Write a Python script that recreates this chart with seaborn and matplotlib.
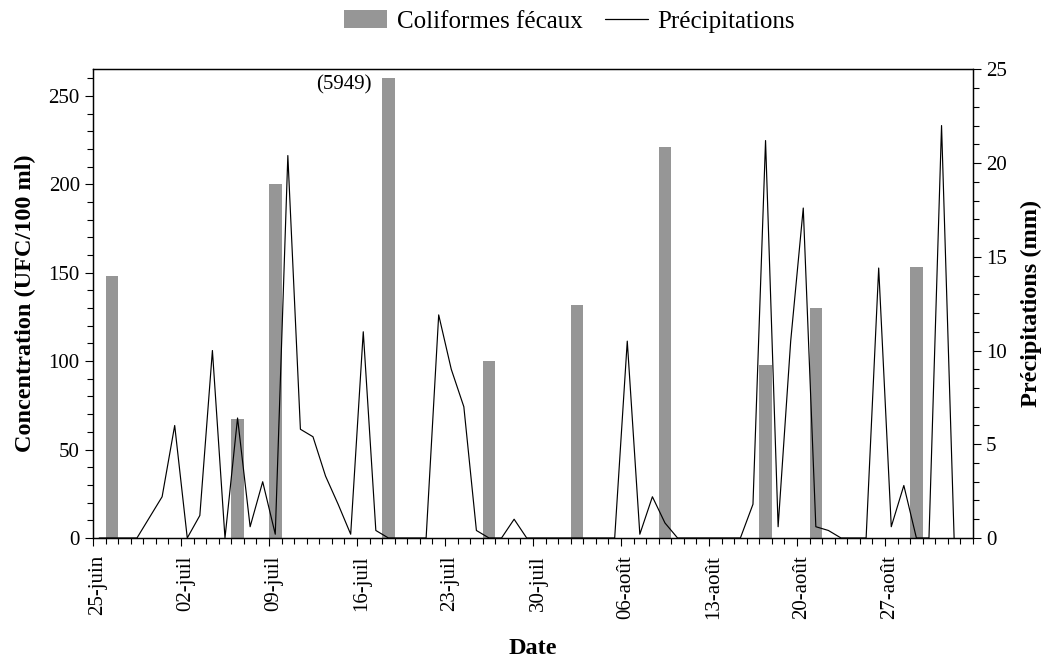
import numpy as np
import pandas as pd
import matplotlib
matplotlib.use("Agg")
import matplotlib.pyplot as plt
import matplotlib.patches as mpatches
import matplotlib.transforms as mtransforms
from matplotlib.lines import Line2D
from matplotlib.ticker import MultipleLocator
import seaborn as sns

# ── Données ───────────────────────────────────────────────────────────────────
START = pd.Timestamp("2000-06-25")
N_DAYS = 70  # 25 juin -> 3 septembre

# Coliformes fécaux (UFC/100 ml), une valeur par date d'échantillonnage
BAR_DATES = ["06-26", "07-06", "07-09", "07-18", "07-26",
             "08-02", "08-09", "08-17", "08-21", "08-29"]
COLIFORMES = [148, 67, 200, 260, 100, 132, 221, 98, 130, 153]

# valeur hors échelle (barre tronquée)
OFFSCALE_DATE = "07-18"
OFFSCALE_LABEL = "(5949)"

# Précipitations journalières (mm), du 25 juin au 2 septembre
PRECIP = [0, 0, 0, 0, 1.1, 2.2, 6.0, 0, 1.2, 10.0,
          0, 6.4, 0.6, 3.0, 0.2, 20.4, 5.8, 5.4, 3.3, 1.8,
          0.2, 11.0, 0.4, 0, 0, 0, 0, 11.9, 9.0, 7.0,
          0.4, 0, 0, 1.0, 0, 0, 0, 0, 0, 0,
          0, 0, 10.5, 0.2, 2.2, 0.8, 0, 0, 0, 0,
          0, 0, 1.8, 21.2, 0.6, 10.5, 17.6, 0.6, 0.4, 0,
          0, 0, 14.4, 0.6, 2.8, 0, 0, 22.0, 0]

TICK_LABELS = ["25-juin", "02-juil", "09-juil", "16-juil", "23-juil",
               "30-juil", "06-août", "13-août", "20-août", "27-août"]

BAR_COLOR = "#969696"


def day_pos(mmdd):
    """Position (en jours depuis le 25 juin) au milieu de la journée."""
    d = pd.Timestamp(f"2000-{mmdd}")
    return (d - START).days + 0.5


# ── Style ─────────────────────────────────────────────────────────────────────
sns.set_theme(style="ticks")
plt.rcParams["font.family"] = ["Liberation Serif", "DejaVu Serif"]
plt.rcParams["axes.edgecolor"] = "black"
plt.rcParams["axes.linewidth"] = 0.9
for key in ("text.color", "axes.labelcolor", "xtick.color", "ytick.color"):
    plt.rcParams[key] = "black"

fig, ax = plt.subplots(figsize=(10.53, 6.64), dpi=100)
fig.subplots_adjust(left=0.0883, right=0.924, bottom=0.1898, top=0.8956)

# ── Barres : coliformes ───────────────────────────────────────────────────────
bar_df = pd.DataFrame({"x": [day_pos(d) for d in BAR_DATES], "y": COLIFORMES})
native_step = np.diff(np.sort(bar_df["x"].values)).min()
sns.barplot(data=bar_df, x="x", y="y", native_scale=True, width=1.0 / native_step,
            color=BAR_COLOR, saturation=1, errorbar=None, linewidth=0, ax=ax)

ax.text(day_pos(OFFSCALE_DATE) - 1.3, 256, OFFSCALE_LABEL,
        ha="right", va="center", fontsize=15)

# ── Ligne : précipitations (axe droit) ────────────────────────────────────────
ax2 = ax.twinx()
precip_df = pd.DataFrame({"x": np.arange(len(PRECIP)) + 0.5, "mm": PRECIP})
sns.lineplot(data=precip_df, x="x", y="mm", color="black", linewidth=0.85, ax=ax2)

# ── Axes ──────────────────────────────────────────────────────────────────────
ax.set_xlim(0, N_DAYS)
ax.set_ylim(0, 265)
ax2.set_ylim(0, 25)

ax.set_xticks(np.arange(0, 7 * len(TICK_LABELS), 7))
ax.set_xticklabels(TICK_LABELS, rotation=90)
ax.xaxis.set_minor_locator(MultipleLocator(1))
ax.yaxis.set_major_locator(MultipleLocator(50))
ax.yaxis.set_minor_locator(MultipleLocator(10))
ax2.yaxis.set_major_locator(MultipleLocator(5))
ax2.yaxis.set_minor_locator(MultipleLocator(1))

for a in (ax, ax2):
    a.tick_params(which="major", direction="out", length=6, width=0.8,
                  labelsize=15, color="black")
    a.tick_params(which="minor", direction="out", length=4.5, width=0.8,
                  color="black")

# les étiquettes de dates sont légèrement décalées à droite des graduations
shift = mtransforms.ScaledTranslation(5 / 100, -4 / 100, fig.dpi_scale_trans)
for lbl in ax.get_xticklabels():
    lbl.set_transform(lbl.get_transform() + shift)

ax.set_xlabel("Date", fontsize=17.5, fontweight="bold", labelpad=14)
ax.set_ylabel("Concentration (UFC/100 ml)", fontsize=17.5, fontweight="bold",
              labelpad=9)
ax2.set_ylabel("Précipitations (mm)", fontsize=17.5, fontweight="bold",
               labelpad=10)

# ── Légende ───────────────────────────────────────────────────────────────────
handles = [mpatches.Patch(color=BAR_COLOR, linewidth=0),
           Line2D([0], [0], color="black", linewidth=0.9)]
fig.legend(handles, ["Coliformes fécaux", "Précipitations"], loc="center",
           bbox_to_anchor=(0.541, 0.968), ncol=2, frameon=False, fontsize=18,
           handlelength=1.7, handleheight=0.75, columnspacing=0.9,
           handletextpad=0.4)

plt.savefig("out.png", dpi=100)
plt.close()
